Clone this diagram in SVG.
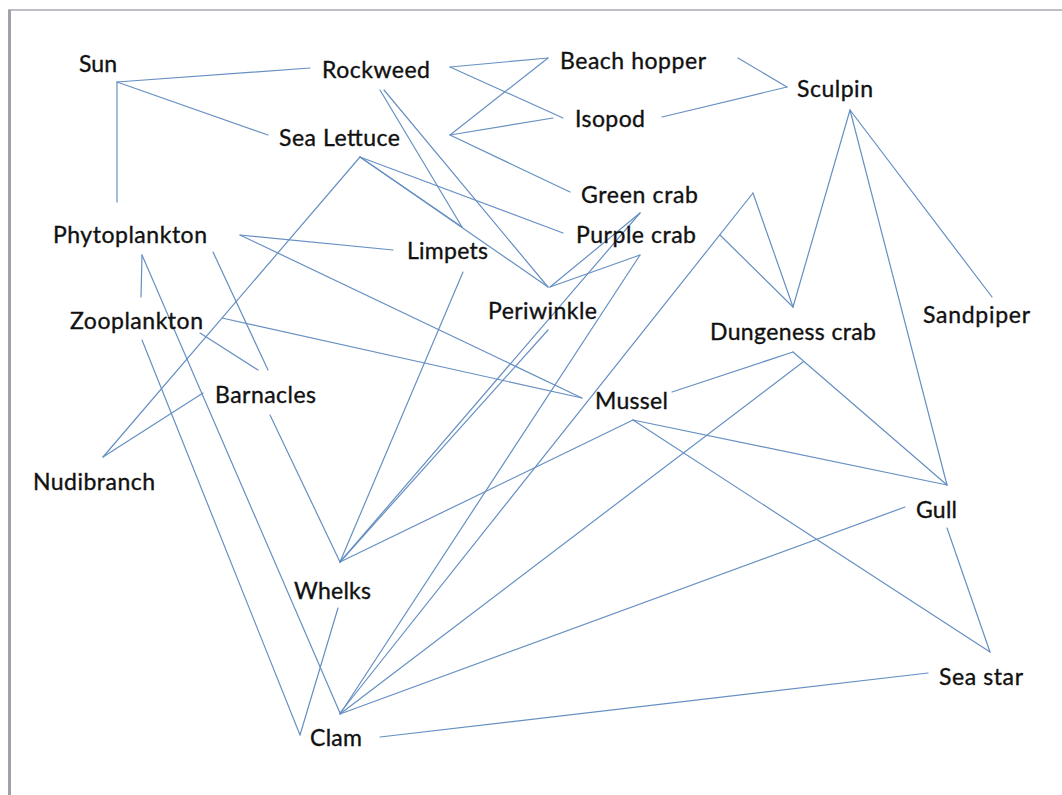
<svg xmlns="http://www.w3.org/2000/svg" width="1062" height="795" viewBox="0 0 1062 795">
<style>
.c line{stroke:#6690c2;stroke-width:1.2;fill:none;stroke-linecap:round}
text{font-family:Lato,"Open Sans","Liberation Sans",sans-serif;font-size:23px;fill:#111111;stroke:#111111;stroke-width:0.35}
</style>
<rect x="0" y="0" width="1062" height="795" fill="#ffffff"/>
<g id="frame">
<line x1="8" y1="10" x2="1062" y2="10" stroke="#a8a8b0" stroke-width="1.5"/>
<line x1="9.5" y1="10" x2="9.5" y2="795" stroke="#a0a0a8" stroke-width="3"/>
</g>
<g id="connectors" class="c">
<line x1="117" y1="82" x2="310" y2="68"/>
<line x1="117" y1="82" x2="268" y2="135"/>
<line x1="117" y1="82" x2="117" y2="202"/>
<line x1="450" y1="67" x2="548" y2="58"/>
<line x1="450" y1="67" x2="563" y2="118"/>
<line x1="380" y1="90" x2="462" y2="227"/>
<line x1="384" y1="90" x2="548" y2="287"/>
<line x1="450" y1="135" x2="548" y2="58"/>
<line x1="450" y1="135" x2="553" y2="118"/>
<line x1="450" y1="135" x2="570" y2="192"/>
<line x1="360" y1="157" x2="103" y2="457"/>
<line x1="360" y1="157" x2="563" y2="233"/>
<line x1="360" y1="157" x2="462" y2="227"/>
<line x1="360" y1="157" x2="548" y2="287"/>
<line x1="738" y1="58" x2="787" y2="87"/>
<line x1="662" y1="117" x2="787" y2="87"/>
<line x1="850" y1="110" x2="793" y2="307"/>
<line x1="850" y1="110" x2="992" y2="297"/>
<line x1="850" y1="110" x2="947" y2="485"/>
<line x1="340" y1="713" x2="753" y2="193"/>
<line x1="753" y1="193" x2="793" y2="307"/>
<line x1="720" y1="235" x2="793" y2="307"/>
<line x1="240" y1="235" x2="393" y2="250"/>
<line x1="240" y1="235" x2="582" y2="398"/>
<line x1="142" y1="255" x2="141" y2="297"/>
<line x1="142" y1="255" x2="340" y2="713"/>
<line x1="213" y1="252" x2="268" y2="370"/>
<line x1="222" y1="318" x2="582" y2="398"/>
<line x1="200" y1="333" x2="258" y2="370"/>
<line x1="142" y1="340" x2="300" y2="735"/>
<line x1="203" y1="393" x2="103" y2="457"/>
<line x1="270" y1="415" x2="340" y2="562"/>
<line x1="463" y1="272" x2="340" y2="562"/>
<line x1="550" y1="287" x2="640" y2="213"/>
<line x1="550" y1="287" x2="640" y2="255"/>
<line x1="548" y1="330" x2="340" y2="562"/>
<line x1="640" y1="213" x2="340" y2="562"/>
<line x1="640" y1="255" x2="340" y2="714"/>
<line x1="633" y1="420" x2="340" y2="562"/>
<line x1="672" y1="392" x2="793" y2="352"/>
<line x1="633" y1="420" x2="947" y2="485"/>
<line x1="633" y1="420" x2="990" y2="652"/>
<line x1="793" y1="352" x2="947" y2="485"/>
<line x1="803" y1="362" x2="340" y2="714"/>
<line x1="905" y1="507" x2="340" y2="714"/>
<line x1="947" y1="528" x2="990" y2="652"/>
<line x1="928" y1="673" x2="380" y2="737"/>
<line x1="338" y1="608" x2="300" y2="735"/>
</g>
<g id="sun"><text x="79" y="72" textLength="38">Sun</text></g>
<g id="rockweed"><text x="322" y="78" textLength="108">Rockweed</text></g>
<g id="beach-hopper"><text x="560" y="69" textLength="146">Beach hopper</text></g>
<g id="isopod"><text x="575" y="127" textLength="70">Isopod</text></g>
<g id="sculpin"><text x="797" y="97" textLength="76">Sculpin</text></g>
<g id="sea-lettuce"><text x="279" y="146" textLength="121">Sea Lettuce</text></g>
<g id="green-crab"><text x="581" y="203" textLength="117">Green crab</text></g>
<g id="purple-crab"><text x="576" y="243" textLength="120">Purple crab</text></g>
<g id="phytoplankton"><text x="53" y="243" textLength="154">Phytoplankton</text></g>
<g id="limpets"><text x="407" y="259" textLength="81">Limpets</text></g>
<g id="periwinkle"><text x="488" y="319" textLength="109">Periwinkle</text></g>
<g id="zooplankton"><text x="70" y="329" textLength="133">Zooplankton</text></g>
<g id="sandpiper"><text x="923" y="323" textLength="107">Sandpiper</text></g>
<g id="dungeness-crab"><text x="710" y="340" textLength="166">Dungeness crab</text></g>
<g id="barnacles"><text x="215" y="403" textLength="101">Barnacles</text></g>
<g id="mussel"><text x="595" y="409" textLength="73">Mussel</text></g>
<g id="nudibranch"><text x="33" y="490" textLength="122">Nudibranch</text></g>
<g id="gull"><text x="916" y="518" textLength="41">Gull</text></g>
<g id="whelks"><text x="294" y="599" textLength="77">Whelks</text></g>
<g id="sea-star"><text x="939" y="685" textLength="84">Sea star</text></g>
<g id="clam"><text x="310" y="746" textLength="52">Clam</text></g>
</svg>
